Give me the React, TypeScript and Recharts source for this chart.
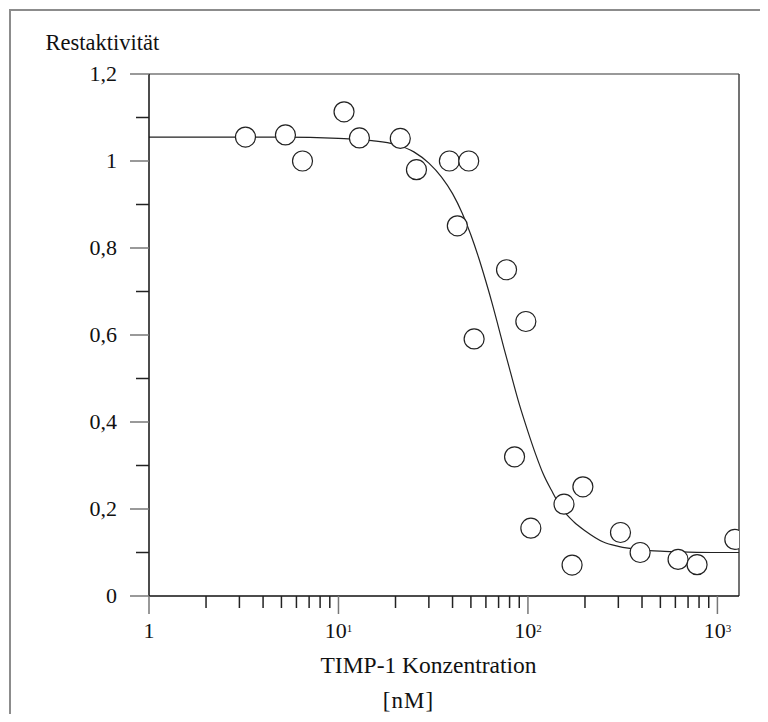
import {
  ComposedChart,
  Line,
  Scatter,
  XAxis,
  YAxis,
  ReferenceLine
} from 'recharts'

// measured points (concentration nM, rest activity)
const concentrations = [
  3.23, 5.25, 6.46, 10.7, 12.9, 21.2, 25.8, 38.5, 42.4, 48.7, 52, 77.1, 85,
  97.5, 103.6, 155, 171, 195, 308, 391, 620, 781, 1236
]
const activities = [
  1.055, 1.06, 1.0, 1.113, 1.053, 1.052, 0.98, 1.0, 0.851, 1.0, 0.591, 0.75,
  0.32, 0.631, 0.156, 0.211, 0.071, 0.251, 0.146, 0.1, 0.084, 0.072, 0.13
]

// fitted curve
const curveX = [
  1, 5, 10, 15, 20, 25, 30, 35, 40, 45, 50, 55, 60, 65, 70, 75, 80, 90, 100,
  110, 120, 135, 150, 175, 200, 250, 300, 400, 500, 700, 1000, 1300
]
const curveY = [
  1.055, 1.055, 1.052, 1.047, 1.038, 1.021, 0.995, 0.963, 0.925, 0.88, 0.83,
  0.777, 0.723, 0.67, 0.617, 0.567, 0.522, 0.441, 0.378, 0.325, 0.282, 0.238,
  0.203, 0.17, 0.15, 0.124, 0.114, 0.106, 0.103, 0.101, 0.1, 0.1
]

const yTicks = [0, 0.1, 0.2, 0.3, 0.4, 0.5, 0.6, 0.7, 0.8, 0.9, 1, 1.1, 1.2]
const yLabels = ['0', '', '0,2', '', '0,4', '', '0,6', '', '0,8', '', '1', '', '1,2']
const xTicks = [
  1, 2, 3, 4, 5, 6, 7, 8, 9, 10, 20, 30, 40, 50, 60, 70, 80, 90, 100, 200, 300,
  400, 500, 600, 700, 800, 900, 1000
]

const points = concentrations.map((x, i) => ({ x, y: activities[i] }))
const curve = curveX.map((x, i) => ({ x, y: curveY[i] }))

const FONT = '"Liberation Serif", "Times New Roman", serif'

function YTick(props: any) {
  const { x, y, index } = props
  const label = yLabels[index]
  const major = label !== ''
  return (
    <g>
      <line
        x1={x - (major ? 19 : 13)}
        x2={x}
        y1={y}
        y2={y}
        stroke={major ? '#777' : '#222'}
        strokeWidth={1.5}
      />
      {major && (
        <text
          x={x - 32}
          y={y}
          dy="0.34em"
          textAnchor="end"
          fontFamily={FONT}
          fontSize={22}
          fill="#111"
        >
          {label}
        </text>
      )}
    </g>
  )
}

function XTick(props: any) {
  const { x, y, payload } = props
  const v = payload.value
  const exp = Math.round(Math.log10(v))
  const major = Math.abs(Math.pow(10, exp) - v) < 1e-6
  return (
    <g>
      <line
        x1={x}
        x2={x}
        y1={y}
        y2={y + (major ? 18 : 12)}
        stroke={major ? '#777' : '#222'}
        strokeWidth={1.5}
      />
      {major && (
        <text
          x={x}
          y={y + 42}
          textAnchor="middle"
          fontFamily={FONT}
          fontSize={22}
          fill="#111"
        >
          {exp === 0 ? '1' : '10'}
          {exp !== 0 && (
            <tspan fontSize={11} dy={-6}>
              {exp}
            </tspan>
          )}
        </text>
      )}
    </g>
  )
}

const Ring = (props: any) => (
  <circle
    cx={props.cx}
    cy={props.cy}
    r={10}
    fill="#fff"
    stroke="#222"
    strokeWidth={1.2}
  />
)

export default function App() {
  return (
    <div style={{ position: 'relative', width: 760, height: 706 }}>
      <div
        style={{
          position: 'absolute',
          left: 1,
          top: 1,
          width: 759,
          height: 705,
          borderLeft: '2px solid #8c8c8c',
          borderTop: '2px solid #8c8c8c',
          boxSizing: 'border-box'
        }}
      />
      <div style={{ position: 'absolute', left: 0, top: 0 }}>
        <ComposedChart
          width={752}
          height={706}
          margin={{ top: 66, right: 21, bottom: 78, left: 81 }}
        >
          <XAxis
            dataKey="x"
            type="number"
            scale="log"
            domain={[1, 1300]}
            allowDataOverflow
            ticks={xTicks}
            interval={0}
            height={40}
            tickSize={0}
            tickMargin={0}
            tickLine={false}
            tick={<XTick />}
            axisLine={{ stroke: '#111', strokeWidth: 1.5 }}
          />
          <YAxis
            dataKey="y"
            type="number"
            domain={[0, 1.2]}
            allowDataOverflow
            ticks={yTicks}
            interval={0}
            width={60}
            tickSize={0}
            tickMargin={0}
            tickLine={false}
            tick={<YTick />}
            axisLine={{ stroke: '#111', strokeWidth: 1.5 }}
          />
          <ReferenceLine y={1.2} stroke="#777" strokeWidth={1.5} />
          <ReferenceLine x={1300} stroke="#444" strokeWidth={1.5} />
          <Line
            data={curve}
            dataKey="y"
            type="monotone"
            dot={false}
            stroke="#222"
            strokeWidth={1.2}
            isAnimationActive={false}
          />
          <Scatter
            data={points}
            dataKey="y"
            shape={<Ring />}
            isAnimationActive={false}
          />
        </ComposedChart>
      </div>
      <svg
        width={752}
        height={706}
        style={{ position: 'absolute', left: 0, top: 0, pointerEvents: 'none' }}
      >
        <text x={37.5} y={42} fontFamily={FONT} fontSize={22.5} fill="#111">
          Restaktivität
        </text>
        <text
          x={420.5}
          y={665}
          textAnchor="middle"
          fontFamily={FONT}
          fontSize={23.5}
          fill="#111"
        >
          TIMP-1 Konzentration
        </text>
        <text
          x={400.5}
          y={700}
          textAnchor="middle"
          fontFamily={FONT}
          fontSize={23}
          letterSpacing={1}
          fill="#111"
        >
          [nM]
        </text>
      </svg>
    </div>
  )
}
